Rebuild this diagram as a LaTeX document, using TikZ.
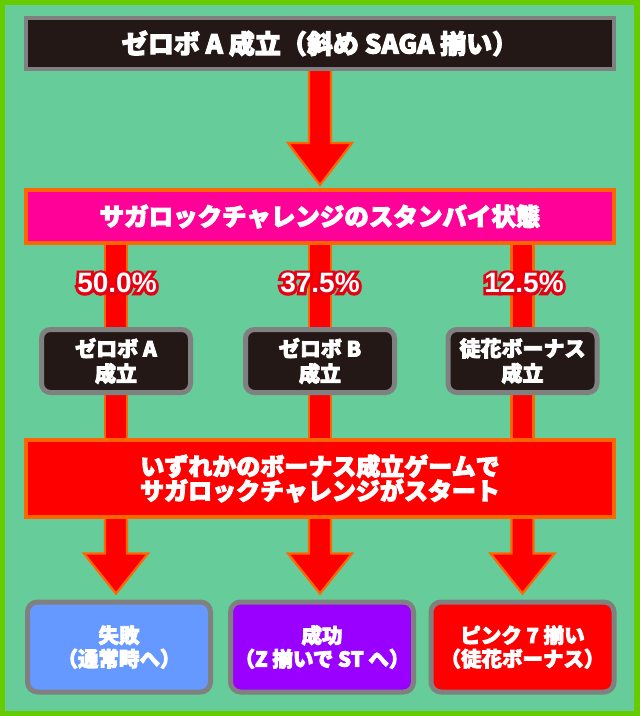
\documentclass[tikz,border=0pt]{standalone}
\usepackage{fontspec}
\setmainfont{Liberation Sans}
\newfontfamily\jpf{Noto Sans CJK JP}[BoldFeatures={FakeBold=4}]
\newfontfamily\pctf{Liberation Sans}
\newfontfamily\pctoutf{Liberation Sans}[BoldFeatures={FakeBold=20}]
\usetikzlibrary{calc}
\pgfdeclarelayer{back}
\pgfdeclarelayer{bg}
\pgfsetlayers{back,bg,main}
\definecolor{limebd}{HTML}{66CC00}
\definecolor{mint}{HTML}{66CC99}
\definecolor{darkbox}{HTML}{231815}
\definecolor{graybd}{HTML}{808080}
\definecolor{orangebd}{HTML}{FF6600}
\definecolor{hotpink}{HTML}{FF0099}
\definecolor{bluebox}{HTML}{6699FF}
\definecolor{purplebox}{HTML}{9900FF}
\definecolor{redbox}{HTML}{FF0000}
\definecolor{pctred}{HTML}{E60012}
\newcommand\outlined[1]{\rlap{\pctoutf\bfseries\textcolor{pctred}{#1}}\textcolor{white}{#1}}
\newcommand\blockarrow[4]{%
\path[arrowsty] let \p1=(#1), \p2=(#2) in
 (\x1-11pt,\y1+4pt) -- (\x1+11pt,\y1+4pt) -- (\x1+11pt,\y2+#3pt+#4pt) -- (\x1+32pt,\y2+#3pt+#4pt)
 -- (\x1,\y2+#3pt) -- (\x1-32pt,\y2+#3pt+#4pt) -- (\x1-11pt,\y2+#3pt+#4pt) -- cycle;}
\newcommand\blockbar[2]{%
\path[arrowsty] let \p1=(#1), \p2=(#2) in
 (\x1-11pt,\y1+4pt) rectangle (\x1+11pt,\y2-4pt);}
\tikzset{
 arrowsty/.style={fill=redbox,draw=orangebd,line width=2.2pt,line join=miter},
 wide/.style={minimum width=588pt,inner sep=0pt,line width=4pt,text=white,align=center},
 darkwide/.style={wide,fill=darkbox,draw=graybd,minimum height=51pt},
 pinkwide/.style={wide,fill=hotpink,draw=orangebd,minimum height=53pt},
 redwide/.style={wide,fill=redbox,draw=orangebd,minimum height=77pt},
 smallbox/.style={fill=darkbox,draw=graybd,line width=5pt,rounded corners=9pt,minimum width=149pt,minimum height=63pt,inner sep=0pt,text=white,align=center,font=\jpf\bfseries\fontsize{21}{25}\selectfont},
 resbox/.style={draw=graybd,line width=5pt,rounded corners=10pt,minimum width=183pt,minimum height=90pt,inner sep=0pt,text=white,align=center,font=\jpf\bfseries\fontsize{20.5}{23.5}\selectfont},
 pct/.style={inner sep=0pt,font=\pctf\bfseries\fontsize{28}{28}\selectfont},
}
\begin{document}
\begin{tikzpicture}[x=1pt,y=-1pt]
\useasboundingbox (0,0) rectangle (640,716);
\begin{pgfonlayer}{back}
\fill[limebd] (0,0) rectangle (640,716);
\fill[mint] (5,5) rectangle (634,711);
\end{pgfonlayer}
\node[darkwide,font=\jpf\bfseries\fontsize{26}{28}\selectfont] (top) at (320,43.5) {ゼロボ A 成立（斜め SAGA 揃い）};
\node[pinkwide,font=\jpf\bfseries\fontsize{24.5}{26}\selectfont] (pink) at (320,216.5) {サガロックチャレンジのスタンバイ状態};
\node[smallbox] (s1) at (116,361) {ゼロボ A\\成立};
\node[smallbox] (s2) at (320,361) {ゼロボ B\\成立};
\node[smallbox] (s3) at (522.5,361) {徒花ボーナス\\成立};
\node[redwide,font=\jpf\bfseries\fontsize{24}{24.5}\selectfont] (red) at (320,478.5) {いずれかのボーナス成立ゲームで\\サガロックチャレンジがスタート};
\node[resbox,fill=bluebox] (b1) at (119,647) {失敗\\（通常時へ）};
\node[resbox,fill=purplebox] (b2) at (322,647) {成功\\（Z 揃いで ST へ）};
\node[resbox,fill=redbox] (b3) at (522.5,647) {ピンク 7 揃い\\（徒花ボーナス）};
\begin{pgfonlayer}{bg}
\blockarrow{top.south}{pink.north}{3}{42}
\blockbar{s1.north |- pink.south}{s1.north}
\blockbar{s2.north |- pink.south}{s2.north}
\blockbar{s3.north |- pink.south}{s3.north}
\blockbar{s1.south}{s1.south |- red.north}
\blockbar{s2.south}{s2.south |- red.north}
\blockbar{s3.south}{s3.south |- red.north}
\blockarrow{s1.south |- red.south}{s1.south |- b1.north}{6}{40}
\blockarrow{s2.south |- red.south}{s2.south |- b2.north}{6}{40}
\blockarrow{s3.south |- red.south}{s3.south |- b3.north}{6}{40}
\end{pgfonlayer}
\node[pct] (p1) at (117,283) {\outlined{50.0\%}};
\node[pct] (p2) at (320,283) {\outlined{37.5\%}};
\node[pct] (p3) at (524,283) {\outlined{12.5\%}};
\end{tikzpicture}
\end{document}
